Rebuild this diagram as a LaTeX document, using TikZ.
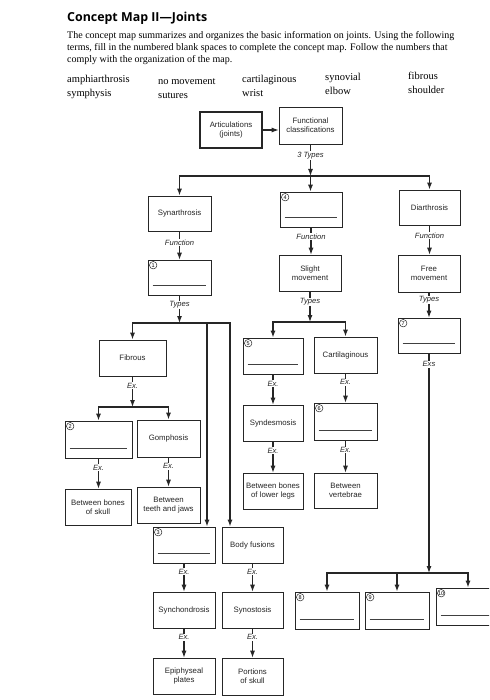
\documentclass[tikz,border=0pt]{standalone}
\usepackage{fontspec}
\setmainfont{Liberation Serif}
\setsansfont{Liberation Sans}
\newfontfamily\titlefont{Open Sans}
\usetikzlibrary{arrows.meta,calc}
\newcommand\numbox[6]{%
  \node[box, minimum width=#4pt, minimum height=#5pt] (#1) at (#2,#3) {};
  \node[num] (#1n) at ($(#1.north west)+(5.5,5.5)$) {#6};
  \draw[blank] ($(#1.south west)!0.27!(#1.north west)+(5,0)$) -- ($(#1.south east)!0.27!(#1.north east)+(-5,0)$);}
\newcommand\txtbox[6]{%
  \node[box, minimum width=#4pt, minimum height=#5pt] (#1) at (#2,#3) {#6};}
\begin{document}
\begin{tikzpicture}[x=1pt,y=-1pt,
  box/.style={draw=black!85, line width=0.6pt, align=center, font=\sffamily\fontsize{7.8}{9.2}\selectfont, inner sep=1pt, text=black!85},
  lab/.style={font=\sffamily\itshape\fontsize{7.6}{8}\selectfont, fill=white, inner sep=0.8pt, text=black!85},
  arr/.style={line width=1.1pt, draw=black!85, -{Latex[length=7pt,width=5pt]}},
  barr/.style={line width=1.5pt, draw=black!85, -{Latex[length=7pt,width=5pt]}},
  num/.style={circle, draw=black!85, line width=0.5pt, inner sep=0pt, minimum size=7.5pt, font=\sffamily\fontsize{5.5}{6}\selectfont},
  blank/.style={line width=0.5pt, draw=black!75},
  hdr/.style={anchor=base west, inner sep=0pt, font=\fontsize{10}{12}\selectfont},
  term/.style={anchor=base west, inner sep=0pt, font=\fontsize{10.5}{12}\selectfont},
]
\useasboundingbox (0,0) rectangle (489,700);
\clip (0,0) rectangle (489,700);
\fill[white] (0,0) rectangle (489,700);

% ---------- header ----------
\node[anchor=base west, inner sep=0pt, font=\titlefont\bfseries\fontsize{12.4}{14}\selectfont] (title) at (67,22) {Concept Map II—Joints};
\node[hdr] (p1) at (67,39) {The concept map summarizes and organizes the basic information on joints. Using the following};
\node[hdr] (p2) at (67,51) {terms, fill in the numbered blank spaces to complete the concept map. Follow the numbers that};
\node[hdr] (p3) at (67,63) {comply with the organization of the map.};
\node[term] (t1) at (67,83) {amphiarthrosis};
\node[term] (t2) at (158,85) {no movement};
\node[term] (t3) at (242,83) {cartilaginous};
\node[term] (t4) at (325,81) {synovial};
\node[term] (t5) at (408,80) {fibrous};
\node[term] (t6) at (67,97) {symphysis};
\node[term] (t7) at (158,99) {sutures};
\node[term] (t8) at (242,97) {wrist};
\node[term] (t9) at (325,95) {elbow};
\node[term] (t10) at (408,94) {shoulder};

% ---------- boxes ----------
\node[box, line width=1.8pt, minimum width=62pt, minimum height=36pt] (art) at (231,130) {Articulations\\(joints)};
\txtbox{func}{310.5}{125.5}{63}{37}{Functional\\classifications}
\txtbox{syn}{179.5}{213.5}{63}{35}{Synarthrosis}
\numbox{b4}{311}{209.5}{62}{35}{4}
\txtbox{dia}{429.5}{207.5}{61}{35}{Diarthrosis}
\numbox{b1}{179.5}{277.5}{63}{35}{1}
\txtbox{slight}{310}{273}{62}{36}{Slight\\movement}
\txtbox{free}{429}{273.5}{62}{37}{Free\\movement}
\numbox{b7}{429}{335.5}{62}{35}{7}
\txtbox{fib}{132.5}{358}{67}{36}{Fibrous}
\numbox{b5}{273}{356}{60}{36}{5}
\txtbox{cart}{345.5}{355}{63}{36}{Cartilaginous}
\numbox{b2}{98.5}{439.5}{67}{37}{2}
\txtbox{gomph}{168.5}{438.5}{63}{37}{Gomphosis}
\txtbox{synd}{273}{423}{60}{36}{Syndesmosis}
\numbox{b6}{345.5}{421.5}{63}{37}{6}
\txtbox{bbs}{98}{507}{66}{36}{Between bones\\of skull}
\txtbox{btj}{168.5}{505}{63}{36}{Between\\teeth and jaws}
\txtbox{bbl}{273}{491}{60}{36}{Between bones\\of lower legs}
\txtbox{bv}{345.5}{490.5}{63}{35}{Between\\vertebrae}
\numbox{b3}{184}{545}{62}{36}{3}
\txtbox{bf}{252.5}{545}{61}{36}{Body fusions}
\txtbox{synch}{184}{610}{62}{36}{Synchondrosis}
\txtbox{synost}{252.5}{610}{61}{36}{Synostosis}
\txtbox{epi}{184}{676}{62}{36}{Epiphyseal\\plates}
\txtbox{por}{252.5}{676.5}{61}{37}{Portions\\of skull}
\numbox{b8}{327}{610.5}{64}{37}{8}
\numbox{b9}{397}{610.5}{64}{37}{9}
\numbox{b10}{468}{606.5}{64}{37}{10}

% ---------- junction points ----------
\coordinate (m1) at (310.5,176);
\coordinate (m2) at (179.5,323);
\coordinate (v1) at (207,323);
\coordinate (v2) at (230,323);
\coordinate (m3) at (132.5,407);
\coordinate (m4) at (310,322);
\coordinate (m5) at (429,573);

% ---------- connectors ----------
\draw[arr] (art.east) -- (art.east -| func.west);
\draw[arr] (func.south) -- node[lab, pos=0.35]{3 Types} (m1);
\draw[barr] (m1) -| (syn.north);
\draw[barr] (m1) -| (dia.north);
\draw[barr] (m1) -- (m1 |- b4.north);

\draw[arr] (syn.south) -- node[lab, pos=0.4]{Function} (b1.north);
\draw[arr] (b1.south) -- node[lab, pos=0.35]{Types} (m2);
\draw[barr] (m2) -| (fib.north);
\draw[barr] (m2) -- (v2) -- (v2 |- bf.north);
\draw[barr] (v1) -- (v1 |- b3.north);

\draw[arr] (fib.south) -- node[lab, pos=0.3]{Ex.} (m3);
\draw[barr] (m3) -| (b2.north);
\draw[barr] (m3) -| (gomph.north);
\draw[arr] (b2.south) -- node[lab, pos=0.3]{Ex.} (b2.south |- bbs.north);
\draw[arr] (gomph.south) -- node[lab, pos=0.3]{Ex.} (gomph.south |- btj.north);

\draw[arr] (b4.south) -- node[lab, pos=0.35]{Function} (b4.south |- slight.north);
\draw[arr] (slight.south) -- node[lab, pos=0.35]{Types} (m4);
\draw[barr] (m4) -| (b5.north);
\draw[barr] (m4) -| (cart.north);
\draw[arr] (b5.south) -- node[lab, pos=0.3]{Ex.} (synd.north);
\draw[arr] (synd.south) -- node[lab, pos=0.3]{Ex.} (bbl.north);
\draw[arr] (cart.south) -- node[lab, pos=0.3]{Ex.} (b6.north);
\draw[arr] (b6.south) -- node[lab, pos=0.3]{Ex.} (bv.north);

\draw[arr] (dia.south) -- node[lab, pos=0.35]{Function} (dia.south |- free.north);
\draw[arr] (free.south) -- node[lab, pos=0.3]{Types} (free.south |- b7.north);
\draw[arr] (b7.south) -- node[lab, pos=0.05]{Exs} (m5);
\draw[barr] (m5) -| (b8.north);
\draw[barr] (m5) -| (b10.north);
\draw[barr] (b9.north |- m5) -- (b9.north);

\draw[arr] (b3.south) -- node[lab, pos=0.3]{Ex.} (synch.north);
\draw[arr] (synch.south) -- node[lab, pos=0.3]{Ex.} (epi.north);
\draw[arr] (bf.south) -- node[lab, pos=0.3]{Ex.} (synost.north);
\draw[arr] (synost.south) -- node[lab, pos=0.3]{Ex.} (por.north);
\end{tikzpicture}
\end{document}
